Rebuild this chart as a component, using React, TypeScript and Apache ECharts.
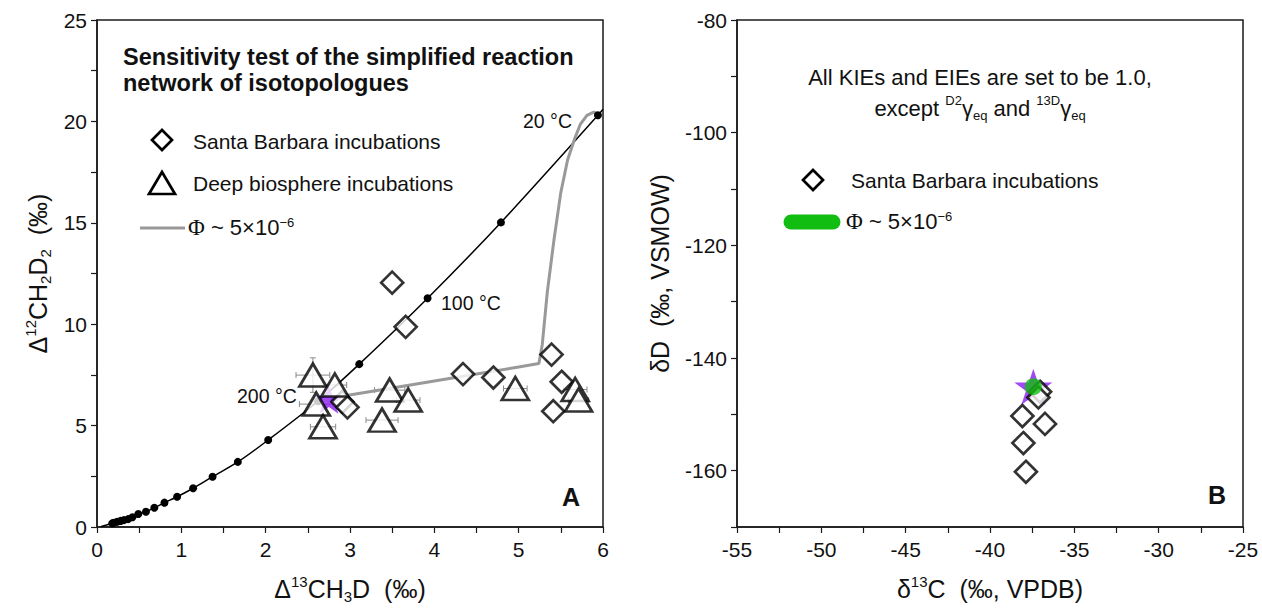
import React, { useEffect, useRef } from "react";
import * as echarts from "echarts";

// ---------- Panel A data ----------
// equilibrium curve (temperature points); first and last points are line ends without dots
const eqX = [0.05, 0.18, 0.20, 0.24, 0.28, 0.32, 0.37, 0.42, 0.49, 0.58, 0.68, 0.80, 0.95, 1.14, 1.37, 1.67, 2.03, 2.62, 3.11, 3.92, 4.79, 5.94, 6.0];
const eqY = [0.02, 0.18, 0.21, 0.26, 0.30, 0.34, 0.39, 0.48, 0.64, 0.75, 0.95, 1.20, 1.49, 1.91, 2.48, 3.21, 4.29, 6.20, 8.03, 11.28, 15.02, 20.30, 20.60];
// model trajectory, Phi ~ 5e-6
const modelX = [2.77, 2.94, 3.5, 4.0, 4.5, 5.0, 5.24, 5.28, 5.34, 5.42, 5.50, 5.58, 5.66, 5.73, 5.81, 5.89, 5.94];
const modelY = [6.30, 6.47, 6.85, 7.20, 7.54, 7.89, 8.06, 9.0, 11.6, 14.2, 16.5, 18.1, 19.1, 19.85, 20.3, 20.46, 20.38];
// Santa Barbara incubations
const sbAX = [3.50, 3.66, 2.91, 2.97, 4.34, 4.70, 5.39, 5.51, 5.41];
const sbAY = [12.05, 9.87, 6.17, 5.90, 7.54, 7.37, 8.50, 7.16, 5.71];
// Deep biosphere incubations with errors
const dbX = [2.56, 2.82, 2.60, 2.68, 3.47, 3.69, 3.38, 4.96, 5.67, 5.71];
const dbY = [7.49, 7.00, 6.06, 4.94, 6.75, 6.26, 5.27, 6.83, 6.78, 6.26];
const dbXerr = [0.20, 0.14, 0.20, 0.15, 0.18, 0.14, 0.19, 0.14, 0.14, 0.12];
const dbYerr = [0.85, 0, 0, 0, 0, 0, 0, 0, 0, 0];
// initial composition star
const startA = [2.75, 6.30];
// temperature labels
const tempLabels = ["20 °C", "100 °C", "200 °C"];

// ---------- Panel B data ----------
const sbBX = [-37.03, -37.13, -38.08, -36.74, -38.02, -37.87];
const sbBY = [-146.0, -147.0, -150.3, -151.7, -155.1, -160.2];
const startB = [-37.43, -145.1];
const modelB = [-37.43, -145.1];

const FONT = "'Liberation Sans', Arial, sans-serif";
const SERIF = "'Liberation Serif', 'Times New Roman', serif";
const STAR =
  "path://M50,0 L61.8,35.4 L99,35.4 L69.1,57.3 L80.9,92.7 L50,70.8 L19.1,92.7 L30.9,57.3 L1,35.4 L38.2,35.4 Z";
const PURPLE = "#8a1cf2";
const GREEN = "#11bd11";
const GRAYLINE = "#999999";

const nameRich = {
  b: { fontSize: 25, fontFamily: FONT, color: "#111", lineHeight: 30 },
  sup: { fontSize: 15, fontFamily: FONT, color: "#111", lineHeight: 16, verticalAlign: "top" },
  sub: { fontSize: 15, fontFamily: FONT, color: "#111", lineHeight: 16, verticalAlign: "bottom" },
};

const axisCommon = {
  type: "value",
  axisLine: { show: true, onZero: false, lineStyle: { color: "#1a1a1a", width: 1.5 } },
  axisTick: { show: true, inside: false, length: 6, lineStyle: { color: "#1a1a1a", width: 1.2 } },
  splitLine: { show: false },
  nameLocation: "middle",
};
const labelCommon = { color: "#111", fontSize: 21, fontFamily: FONT };

function errRender(params: any, api: any) {
  const x = api.value(0);
  const y = api.value(1);
  const ex = api.value(2);
  const ey = api.value(3);
  const st = { stroke: "#8a8a8a", lineWidth: 1 };
  const l = api.coord([x - ex, y]);
  const r = api.coord([x + ex, y]);
  const ch: any[] = [
    { type: "line", shape: { x1: l[0], y1: l[1], x2: r[0], y2: r[1] }, style: st },
    { type: "line", shape: { x1: l[0], y1: l[1] - 3, x2: l[0], y2: l[1] + 3 }, style: st },
    { type: "line", shape: { x1: r[0], y1: r[1] - 3, x2: r[0], y2: r[1] + 3 }, style: st },
  ];
  if (ey > 0) {
    const t = api.coord([x, y + ey]);
    const b = api.coord([x, y - ey]);
    ch.push({ type: "line", shape: { x1: t[0], y1: t[1], x2: b[0], y2: b[1] }, style: st });
    ch.push({ type: "line", shape: { x1: t[0] - 3, y1: t[1], x2: t[0] + 3, y2: t[1] }, style: st });
    ch.push({ type: "line", shape: { x1: b[0] - 3, y1: b[1], x2: b[0] + 3, y2: b[1] }, style: st });
  }
  return { type: "group", children: ch };
}

function txt(x: number, y: number, text: string, size: number, opts: any = {}) {
  return {
    type: "text",
    x,
    y,
    z: 100,
    style: {
      text,
      fill: "#111",
      fontSize: size,
      fontFamily: FONT,
      fontWeight: opts.bold ? "bold" : "normal",
      align: opts.align || "left",
      textAlign: opts.align || "left",
      verticalAlign: "middle",
      textVerticalAlign: "middle",
      rich: opts.rich,
    },
  };
}

const phiRich = {
  phi: { fontSize: 23, fontFamily: SERIF, color: "#111" },
  n: { fontSize: 22, fontFamily: FONT, color: "#111" },
  sup: { fontSize: 13, fontFamily: FONT, color: "#111", verticalAlign: "top", lineHeight: 14 },
};
const phiText = "{phi|Φ}{n| ~ 5×10}{sup|−6}";

export default function App() {
  const ref = useRef<HTMLDivElement>(null);
  useEffect(() => {
    if (!ref.current) return;
    const chart = echarts.init(ref.current, null, { renderer: "svg" });
    const markStyle = { color: "#ffffff", borderColor: "#000000", borderWidth: 2.7 };

    const option: any = {
      animation: false,
      backgroundColor: "#ffffff",
      grid: [
        { left: 97, top: 20, width: 506, height: 507, show: true, borderColor: "#1a1a1a", borderWidth: 1.5 },
        { left: 737, top: 20, width: 506, height: 507, show: true, borderColor: "#1a1a1a", borderWidth: 1.5 },
      ],
      xAxis: [
        {
          ...axisCommon,
          gridIndex: 0,
          min: 0,
          max: 6,
          interval: 0.5,
          axisLabel: { ...labelCommon, margin: 12, formatter: (v: number) => (Number.isInteger(v) ? String(v) : "") },
          name: "{b|Δ}{sup|13}{b|CH}{sub|3}{b|D  (‰)}",
          nameGap: 47,
          nameTextStyle: { rich: nameRich, fontSize: 25 },
        },
        {
          ...axisCommon,
          gridIndex: 1,
          min: -55,
          max: -25,
          interval: 2.5,
          axisLabel: { ...labelCommon, margin: 12, formatter: (v: number) => (v % 5 === 0 ? String(v) : "") },
          name: "{b|δ}{sup|13}{b|C  (‰, VPDB)}",
          nameGap: 47,
          nameTextStyle: { rich: nameRich, fontSize: 25 },
        },
      ],
      yAxis: [
        {
          ...axisCommon,
          gridIndex: 0,
          min: 0,
          max: 25,
          interval: 2.5,
          axisLabel: { ...labelCommon, margin: 10, formatter: (v: number) => (v % 5 === 0 ? String(v) : "") },
          name: "{b|Δ}{sup|12}{b|CH}{sub|2}{b|D}{sub|2}{b|  (‰)}",
          nameGap: 44,
          nameTextStyle: { rich: nameRich, fontSize: 25 },
        },
        {
          ...axisCommon,
          gridIndex: 1,
          min: -170,
          max: -80,
          interval: 10,
          axisLabel: { ...labelCommon, margin: 10, formatter: (v: number) => (v % 20 === 0 ? String(v) : "") },
          name: "{b|δD  (‰, VSMOW)}",
          nameGap: 62,
          nameTextStyle: { rich: nameRich, fontSize: 25 },
        },
      ],
      series: [
        {
          name: "error bars",
          type: "custom",
          xAxisIndex: 0,
          yAxisIndex: 0,
          renderItem: errRender,
          data: dbX.map((x, i) => [x, dbY[i], dbXerr[i], dbYerr[i]]),
          z: 2,
          silent: true,
        },
        {
          name: "Equilibrium",
          type: "line",
          xAxisIndex: 0,
          yAxisIndex: 0,
          smooth: 0.3,
          symbol: "circle",
          symbolSize: 8,
          itemStyle: { color: "#000" },
          lineStyle: { color: "#000", width: 1.5 },
          data: eqX.map((x, i) =>
            i === 0 || i === eqX.length - 1 ? { value: [x, eqY[i]], symbol: "none" } : [x, eqY[i]]
          ),
          z: 3,
        },
        {
          name: "Φ ~ 5×10−6",
          type: "line",
          xAxisIndex: 0,
          yAxisIndex: 0,
          symbol: "none",
          smooth: false,
          lineStyle: { color: GRAYLINE, width: 3 },
          data: modelX.map((x, i) => [x, modelY[i]]),
          z: 3,
        },
        {
          name: "Initial A",
          type: "scatter",
          xAxisIndex: 0,
          yAxisIndex: 0,
          symbol: STAR,
          symbolSize: [30, 29],
          itemStyle: { color: PURPLE },
          data: [startA],
          z: 4,
        },
        {
          name: "Santa Barbara incubations",
          type: "scatter",
          xAxisIndex: 0,
          yAxisIndex: 0,
          symbol: "diamond",
          symbolSize: 22,
          itemStyle: markStyle,
          data: sbAX.map((x, i) => [x, sbAY[i]]),
          z: 5,
        },
        {
          name: "Deep biosphere incubations",
          type: "scatter",
          xAxisIndex: 0,
          yAxisIndex: 0,
          symbol: "triangle",
          symbolSize: [27, 23],
          itemStyle: markStyle,
          data: dbX.map((x, i) => [x, dbY[i]]),
          z: 6,
        },
        {
          name: "Initial B",
          type: "scatter",
          xAxisIndex: 1,
          yAxisIndex: 1,
          symbol: STAR,
          symbolSize: [38, 36],
          itemStyle: { color: PURPLE },
          data: [startB],
          z: 4,
        },
        {
          name: "Santa Barbara incubations B",
          type: "scatter",
          xAxisIndex: 1,
          yAxisIndex: 1,
          symbol: "diamond",
          symbolSize: 22,
          itemStyle: markStyle,
          data: sbBX.map((x, i) => [x, sbBY[i]]),
          z: 5,
        },
        {
          name: "Model B",
          type: "scatter",
          xAxisIndex: 1,
          yAxisIndex: 1,
          symbol: "circle",
          symbolSize: 17,
          itemStyle: { color: GREEN },
          data: [modelB],
          z: 6,
        },
      ],
      graphic: [
        // Panel A title
        txt(123, 57, "Sensitivity test of the simplified reaction", 23.5, { bold: true }),
        txt(123, 83, "network of isotopologues", 23.5, { bold: true }),
        // Panel A legend
        {
          type: "polygon",
          z: 100,
          shape: { points: [[162, 130], [172, 140], [162, 150], [152, 140]] },
          style: { fill: "#fff", stroke: "#000", lineWidth: 2.7 },
        },
        txt(193, 141, "Santa Barbara incubations", 21),
        {
          type: "polygon",
          z: 100,
          shape: { points: [[162, 172], [175, 194], [149, 194]] },
          style: { fill: "#fff", stroke: "#000", lineWidth: 2.7 },
        },
        txt(193, 183, "Deep biosphere incubations", 21),
        {
          type: "line",
          z: 100,
          shape: { x1: 140, y1: 228, x2: 185, y2: 228 },
          style: { stroke: GRAYLINE, lineWidth: 3 },
        },
        txt(188, 227, phiText, 22, { rich: phiRich }),
        // temperature labels
        txt(523, 121, tempLabels[0], 19.5),
        txt(441, 303, tempLabels[1], 19.5),
        txt(237, 396, tempLabels[2], 19.5),
        txt(562, 497, "A", 25, { bold: true }),
        // Panel B inset text
        txt(980, 77, "All KIEs and EIEs are set to be 1.0,", 22, { align: "center" }),
        txt(980, 108, "{n|except }{sup|D2}{n|γ}{sub|eq}{n| and }{sup|13D}{n|γ}{sub|eq}", 22, {
          align: "center",
          rich: {
            n: { fontSize: 22, fontFamily: FONT, color: "#111", lineHeight: 28 },
            sup: { fontSize: 13, fontFamily: FONT, color: "#111", lineHeight: 14, verticalAlign: "top" },
            sub: { fontSize: 13, fontFamily: FONT, color: "#111", lineHeight: 14, verticalAlign: "bottom" },
          },
        }),
        // Panel B legend
        {
          type: "polygon",
          z: 100,
          shape: { points: [[813, 170], [823, 180], [813, 190], [803, 180]] },
          style: { fill: "#fff", stroke: "#000", lineWidth: 2.7 },
        },
        txt(851, 180, "Santa Barbara incubations", 21),
        {
          type: "line",
          z: 100,
          shape: { x1: 791, y1: 222, x2: 833, y2: 222 },
          style: { stroke: GREEN, lineWidth: 15, lineCap: "round" },
        },
        txt(846, 221, phiText, 22, { rich: phiRich }),
        txt(1208, 495, "B", 25, { bold: true }),
      ],
    };
    chart.setOption(option);
    return () => chart.dispose();
  }, []);
  return (
    <div
      ref={ref}
      style={{ position: "absolute", left: 0, top: 0, width: 1262, height: 609, background: "#fff" }}
    />
  );
}
